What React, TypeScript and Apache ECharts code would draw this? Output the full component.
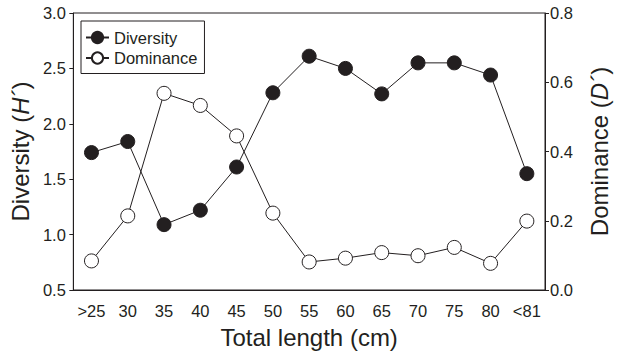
import React, { useEffect, useRef } from "react";
import * as echarts from "echarts";

const categories = [">25", "30", "35", "40", "45", "50", "55", "60", "65", "70", "75", "80", "<81"];
const diversity = [1.74, 1.84, 1.09, 1.22, 1.61, 2.28, 2.61, 2.5, 2.27, 2.55, 2.55, 2.44, 1.55];
const dominance = [0.084, 0.214, 0.568, 0.533, 0.445, 0.222, 0.081, 0.092, 0.108, 0.099, 0.123, 0.077, 0.199];

const FONT = "'Liberation Sans', Arial, sans-serif";
const INK = "#231f20";
const TICK_FS = 16.5;
const NAME_FS = 24;

export default function App() {
  const ref = useRef<HTMLDivElement>(null);
  useEffect(() => {
    if (!ref.current) return;
    const chart = echarts.init(ref.current, undefined, { renderer: "svg" });
    chart.setOption({
      animation: false,
      textStyle: { fontFamily: FONT, color: INK },
      grid: { left: 70, right: 63, top: 13, bottom: 64, show: true, borderColor: INK, borderWidth: 1, backgroundColor: "transparent" },
      legend: {
        left: 81,
        top: 21,
        orient: "vertical",
        padding: [8, 7, 7, 4],
        itemGap: 3.5,
        itemWidth: 23,
        itemHeight: 14,
        borderColor: INK,
        borderWidth: 1,
        borderRadius: 0,
        textStyle: { fontFamily: FONT, fontSize: TICK_FS, color: INK },
        data: ["Diversity", "Dominance"],
      },
      xAxis: {
        type: "category",
        data: categories,
        boundaryGap: true,
        axisLine: { lineStyle: { color: INK, width: 1 } },
        axisTick: { inside: true, length: 4, alignWithLabel: true, interval: 0, lineStyle: { color: INK } },
        axisLabel: { fontFamily: FONT, fontSize: TICK_FS, color: INK, margin: 12, interval: 0, hideOverlap: false },
        name: "Total length (cm)",
        nameLocation: "middle",
        nameGap: 35,
        nameTextStyle: { fontFamily: FONT, fontSize: NAME_FS, color: INK },
      },
      yAxis: [
        {
          type: "value",
          min: 0.5,
          max: 3.0,
          interval: 0.5,
          position: "left",
          splitLine: { show: false },
          axisLine: { show: true, lineStyle: { color: INK, width: 1 } },
          axisTick: { show: true, length: 4, lineStyle: { color: INK } },
          axisLabel: { fontFamily: FONT, fontSize: TICK_FS, color: INK, margin: 7.5, formatter: (v: number) => v.toFixed(1) },
          name: "Diversity ({i|H´})",
          nameLocation: "middle",
          nameGap: 38,
          nameRotate: 90,
          nameTextStyle: {
            fontFamily: FONT,
            fontSize: NAME_FS,
            color: INK,
            rich: { i: { fontFamily: FONT, fontSize: NAME_FS, fontStyle: "italic", color: INK } },
          },
        },
        {
          type: "value",
          min: 0,
          max: 0.8,
          interval: 0.2,
          position: "right",
          splitLine: { show: false },
          axisLine: { show: true, lineStyle: { color: INK, width: 1 } },
          axisTick: { show: true, length: 4, lineStyle: { color: INK } },
          axisLabel: { fontFamily: FONT, fontSize: TICK_FS, color: INK, margin: 5, formatter: (v: number) => v.toFixed(1) },
          name: "Dominance ({i|D´})",
          nameLocation: "middle",
          nameGap: 42,
          nameRotate: 90,
          nameTextStyle: {
            fontFamily: FONT,
            fontSize: NAME_FS,
            color: INK,
            rich: { i: { fontFamily: FONT, fontSize: NAME_FS, fontStyle: "italic", color: INK } },
          },
        },
      ],
      series: [
        {
          name: "Diversity",
          type: "line",
          yAxisIndex: 0,
          data: diversity,
          symbol: "circle",
          symbolSize: 14,
          lineStyle: { color: INK, width: 1 },
          itemStyle: { color: INK, borderColor: INK, borderWidth: 1 },
          z: 3,
        },
        {
          name: "Dominance",
          type: "line",
          yAxisIndex: 1,
          data: dominance,
          symbol: "circle",
          symbolSize: 14,
          lineStyle: { color: INK, width: 1 },
          itemStyle: { color: "#ffffff", borderColor: INK, borderWidth: 1 },
          z: 2,
        },
      ],
    });
    return () => chart.dispose();
  }, []);
  return <div ref={ref} style={{ width: 619, height: 354, position: "absolute", left: 0, top: 0 }} />;
}
